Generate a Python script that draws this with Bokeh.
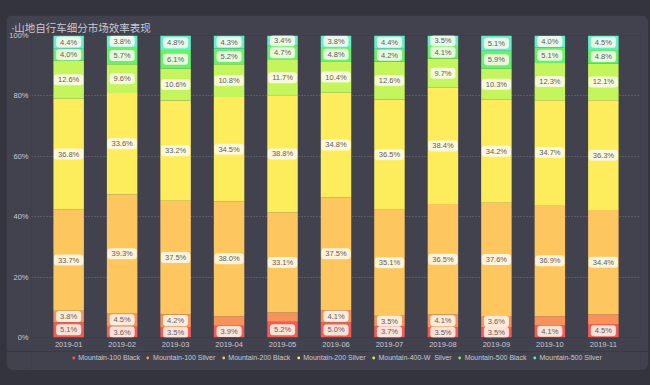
from bokeh.plotting import figure
from bokeh.layouts import column
from bokeh.models import (ColumnDataSource, Range1d, FixedTicker,
                          PrintfTickFormatter, Legend, LegendItem, Title)
from bokeh.core.properties import value
from bokeh.embed import file_html
from bokeh.resources import INLINE

# ---- data ----
months = ["2019-01", "2019-02", "2019-03", "2019-04", "2019-05", "2019-06",
          "2019-07", "2019-08", "2019-09", "2019-10", "2019-11"]
series_names = ["Mountain-100 Black", "Mountain-100 Silver", "Mountain-200 Black",
                "Mountain-200 Silver", "Mountain-400-W  Silver", "Mountain-500 Black",
                "Mountain-500 Silver"]
m100_black = [5.1, 3.6, 3.5, 3.9, 5.2, 5.0, 3.7, 3.5, 3.5, 4.1, 4.5]
m100_silver = [3.8, 4.5, 4.2, 3.1, 3.1, 4.1, 3.5, 4.1, 3.6, 2.9, 3.2]
m200_black = [33.7, 39.3, 37.5, 38.0, 33.1, 37.5, 35.1, 36.5, 37.6, 36.9, 34.4]
m200_silver = [36.8, 33.6, 33.2, 34.5, 38.8, 34.8, 36.5, 38.4, 34.2, 34.7, 36.3]
m400w_silver = [12.6, 9.6, 10.6, 10.8, 11.7, 10.4, 12.6, 9.7, 10.3, 12.3, 12.1]
m500_black = [4.0, 5.7, 6.1, 5.2, 4.7, 4.8, 4.2, 4.1, 5.9, 5.1, 4.8]
m500_silver = [4.4, 3.8, 4.8, 4.3, 3.4, 3.8, 4.4, 3.5, 5.1, 4.0, 4.5]
y_ticks = [0, 20, 40, 60, 80, 100]
title_text = "·山地自行车细分市场效率表现"

series = [m100_black, m100_silver, m200_black, m200_silver, m400w_silver, m500_black, m500_silver]
colors = ["#f35b55", "#f8925b", "#fdc65e", "#fdec5c", "#c5f55c", "#66f266", "#63f0c6"]

OUTER = "#34343f"
PANEL = "#42424f"
TXT = "#c9c9d2"
FONT = "Liberation Sans"
W = 642

xs = list(range(len(months)))
totals = [sum(s[i] for s in series) for i in xs]
keys = ["s%d" % k for k in range(len(series))]
data = {"x": xs}
for k, s in zip(keys, series):
    data[k] = [v / t * 100 for v, t in zip(s, totals)]
src = ColumnDataSource(data)

# label positions (segment centres), hidden when segment too thin
lx, ly, lt = [], [], []
for i in xs:
    base = 0.0
    for j, k in enumerate(keys):
        h = data[k][i]
        raw = series[j][i]
        if raw >= 3.3:
            lx.append(i)
            ly.append(base + h / 2)
            lt.append("%.1f%%" % raw)
        base += h
lsrc = ColumnDataSource(dict(x=lx, y=ly, t=lt))

p = figure(width=W, height=336, x_range=Range1d(-0.695, len(months) - 1 + 0.695),
           y_range=Range1d(0, 100), output_backend="svg", toolbar_location=None,
           background_fill_color=PANEL, border_fill_color=PANEL,
           min_border_left=24, min_border_right=8, min_border_top=20, min_border_bottom=14)
p.styles = {"border-radius": "7px 7px 0 0", "overflow": "hidden"}
p.outline_line_color = None

p.title = Title(text=title_text, align="left", text_font_size="10.5px",
                text_font="Noto Sans, Noto Sans CJK SC", text_font_style="normal",
                text_color=TXT, offset=-20, standoff=2)

p.vbar_stack(keys, x="x", width=0.57, color=colors, line_color=None, source=src)

p.text(x="x", y="y", text="t", source=lsrc, text_align="center", text_baseline="middle",
       text_font=value(FONT), text_font_size="7.5px", text_color="#5e5e5e",
       background_fill_color="#fffaf0", background_fill_alpha=0.85,
       padding=[4, 1], border_radius=3)

# axes
p.xaxis.ticker = FixedTicker(ticks=xs)
p.xaxis.major_label_overrides = {i: m for i, m in zip(xs, months)}
p.yaxis.ticker = FixedTicker(ticks=y_ticks)
p.yaxis.formatter = PrintfTickFormatter(format="%d%%")
for ax in (p.xaxis[0], p.yaxis[0]):
    ax.axis_line_color = None
    ax.major_tick_line_color = None
    ax.minor_tick_line_color = None
    ax.major_tick_out = 0
    ax.major_tick_in = 0
    ax.major_label_text_color = TXT
    ax.major_label_text_font = FONT
    ax.major_label_text_font_size = "7.5px"
p.yaxis.major_label_standoff = 3
p.xaxis.major_label_standoff = 4
p.xgrid.grid_line_color = None
p.ygrid.grid_line_color = "#75758a"
p.ygrid.grid_line_dash = "1 2"
p.ygrid.grid_line_width = 1

# legend in a slim figure below the chart (hidden proxy renderers give the circle swatches)
lg = figure(width=W, height=19, x_range=Range1d(0, 1), y_range=Range1d(0, 1),
            output_backend="svg", toolbar_location=None, x_axis_type=None, y_axis_type=None,
            background_fill_color=PANEL, border_fill_color=PANEL,
            min_border=0, min_border_left=0, min_border_right=0, min_border_top=0,
            min_border_bottom=0)
lg.styles = {"border-radius": "0 0 7px 7px", "overflow": "hidden"}
lg.outline_line_color = None
lg.grid.grid_line_color = None
proxy = ColumnDataSource(dict(x=[0.5], y=[0.5]))
items = []
for name, c in zip(series_names, colors):
    r = lg.scatter(x="x", y="y", source=proxy, marker="circle", size=7,
                   fill_color=c, line_color=None, visible=False)
    items.append(LegendItem(label=name, renderers=[r]))
legend = Legend(items=items, orientation="horizontal", location="top_center",
                label_text_font=FONT, label_text_font_size="7px", label_text_color=TXT,
                glyph_width=7, glyph_height=7, label_standoff=2, spacing=4,
                label_width=0, label_height=8, padding=1, margin=2,
                border_line_color=None, background_fill_alpha=0,
                inactive_fill_alpha=0, click_policy="none")
lg.add_layout(legend, "center")

layout = column(p, lg, spacing=0)

html = file_html(layout, INLINE, title="chart")
css = ("<style>html,body{margin:0 !important;background:%s !important;}"
       "body{padding:15px 0 0 6px !important;}</style></head>") % OUTER
html = html.replace("</head>", css)
open("out.html", "w").write(html)
